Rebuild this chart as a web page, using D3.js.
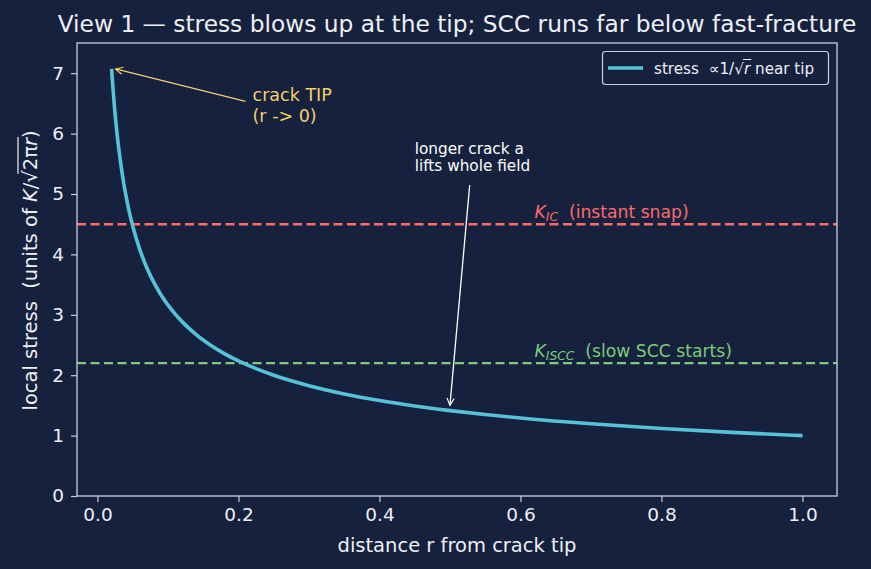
<!DOCTYPE html>
<html><head><meta charset="utf-8">
<script src="https://cdn.jsdelivr.net/npm/d3@7"></script>
<style>
html,body{margin:0;padding:0;background:#16213e;}
text{font-family:"DejaVu Sans",sans-serif;white-space:pre;}
</style></head>
<body><svg id="c" width="871" height="569"></svg>
<script>
// ---- data ----
const rValues = [0.020,0.025,0.030,0.035,0.040,0.045,0.050,0.060,0.070,0.080,0.090,0.100,0.110,0.120,0.130,0.140,0.150,0.160,0.180,0.200,0.225,0.250,0.275,0.300,0.350,0.400,0.450,0.500,0.550,0.600,0.700,0.800,0.900,1.000];
const stressValues = [7.071,6.325,5.774,5.345,5.000,4.714,4.472,4.082,3.780,3.536,3.333,3.162,3.015,2.887,2.774,2.673,2.582,2.500,2.357,2.236,2.108,2.000,1.907,1.826,1.690,1.581,1.491,1.414,1.348,1.291,1.195,1.118,1.054,1.000];
const xTicks = [0.0,0.2,0.4,0.6,0.8,1.0];
const yTicks = [0,1,2,3,4,5,6,7];
const thresholdNames = ["IC","ISCC"];
const thresholdValues = [4.5,2.2];
const thresholdNotes = ["(instant snap)","(slow SCC starts)"];
const tipPoint = [0.02,7.07];
const tipTextPos = [0.22,6.55];
const fieldArrowEnd = [0.5,1.5];
const fieldArrowStart = [0.528,5.15];
const fieldTextPos = [0.45,5.42];

const W=871,H=569;
const m={l:77,r:34,t:43,b:73};
const bg="#16213e", fg="#eef0f6", spine="#c9cfdc";
const svg=d3.select("#c");
svg.append("rect").attr("width",W).attr("height",H).attr("fill",bg);

const x=d3.scaleLinear().domain([-0.029,1.049]).range([m.l,W-m.r]);
const y=d3.scaleLinear().domain([0,7.5]).range([H-m.b,m.t]);

const defs=svg.append("defs");
defs.append("marker").attr("id","ay").attr("viewBox","0 0 10 10").attr("refX",9).attr("refY",5)
 .attr("markerWidth",9).attr("markerHeight",9).attr("markerUnits","userSpaceOnUse").attr("orient","auto")
 .append("path").attr("d","M1,1 L9,5 L1,9").attr("fill","none").attr("stroke","#f2d06b").attr("stroke-width",1.3);
defs.append("marker").attr("id","aw").attr("viewBox","0 0 10 10").attr("refX",9).attr("refY",5)
 .attr("markerWidth",9).attr("markerHeight",9).attr("markerUnits","userSpaceOnUse").attr("orient","auto")
 .append("path").attr("d","M1,1 L9,5 L1,9").attr("fill","none").attr("stroke","#ffffff").attr("stroke-width",1.3);

// threshold lines
const thColors=["#ff6b6b","#7ccc7a"];
thresholdValues.forEach((v,i)=>{
  svg.append("line").attr("x1",x.range()[0]).attr("x2",x.range()[1]).attr("y1",y(v)).attr("y2",y(v))
    .attr("stroke",thColors[i]).attr("stroke-width",2.4).attr("stroke-dasharray","9,4.5");
  const t=svg.append("text").attr("x",x(0.62)).attr("y",y(v+0.1)).attr("fill",thColors[i]).attr("font-size",17.2);
  t.append("tspan").attr("font-style","italic").text("K");
  t.append("tspan").attr("font-style","italic").attr("font-size",12.3).attr("dy",3).text(thresholdNames[i]);
  t.append("tspan").attr("dy",-3).text("  "+thresholdNotes[i]);
});

// curve
const pts=rValues.map((r,i)=>[r,stressValues[i]]);
svg.append("path").datum(pts).attr("fill","none").attr("stroke","#56c2d8").attr("stroke-width",3.6)
  .attr("stroke-linejoin","round").attr("stroke-linecap","butt")
  .attr("d",d3.line().x(d=>x(d[0])).y(d=>y(d[1])).curve(d3.curveMonotoneX));

// axes
const gx=svg.append("g").attr("transform",`translate(0,${H-m.b})`)
  .call(d3.axisBottom(x).tickValues(xTicks).tickFormat(d3.format(".1f")).tickSize(6).tickPadding(6));
const gy=svg.append("g").attr("transform",`translate(${m.l},0)`)
  .call(d3.axisLeft(y).tickValues(yTicks).tickFormat(d3.format("d")).tickSize(6).tickPadding(7));
[gx,gy].forEach(g=>{
  g.select(".domain").remove();
  g.selectAll("line").attr("stroke",spine).attr("stroke-width",1.2);
  g.selectAll("text").attr("fill",fg).attr("font-size",18.5).attr("font-family","DejaVu Sans");
});
svg.append("rect").attr("x",m.l).attr("y",m.t).attr("width",W-m.l-m.r).attr("height",H-m.t-m.b)
  .attr("fill","none").attr("stroke",spine).attr("stroke-width",1.3);

// title & labels
svg.append("text").attr("x",457).attr("y",31.5).attr("text-anchor","middle").attr("fill",fg).attr("font-size",23.3)
  .text("View 1 \u2014 stress blows up at the tip; SCC runs far below fast-fracture");
svg.append("text").attr("x",(m.l+W-m.r)/2).attr("y",552).attr("text-anchor","middle").attr("fill",fg).attr("font-size",19.5)
  .text("distance r from crack tip");

// y label with overline radical
const yl=svg.append("g").attr("transform",`translate(37,${(m.t+H-m.b)/2+1}) rotate(-90)`);
const ylt=yl.append("text").attr("text-anchor","middle").attr("fill",fg).attr("font-size",19.5);
ylt.append("tspan").text("local stress  (units of ");
ylt.append("tspan").attr("font-style","italic").text("K");
ylt.append("tspan").text("/\u221A");
ylt.append("tspan").text("2\u03C0");
ylt.append("tspan").attr("font-style","italic").text("r");
ylt.append("tspan").text(")");
{
  const n=ylt.node(); const txt=ylt.text();
  const i0=txt.indexOf("2\u03C0");
  const s=n.getStartPositionOfChar(i0-1);
  const e=n.getEndPositionOfChar(i0+2);
  yl.append("line").attr("x1",s.x+9).attr("x2",e.x+1).attr("y1",-19).attr("y2",-19).attr("stroke",fg).attr("stroke-width",1.2);
}

// annotations
svg.append("line").attr("x1",x(tipTextPos[0])-7).attr("y1",y(tipTextPos[1])+1)
  .attr("x2",x(tipPoint[0])+4).attr("y2",y(tipPoint[1])).attr("stroke","#f2d06b").attr("stroke-width",1.3).attr("marker-end","url(#ay)");
const tt=svg.append("text").attr("fill","#f2d06b").attr("font-size",17.5);
tt.append("tspan").attr("x",x(tipTextPos[0])).attr("y",101).text("crack TIP");
tt.append("tspan").attr("x",x(tipTextPos[0])).attr("dy",20.5).text("(r -> 0)");

svg.append("line").attr("x1",x(fieldArrowStart[0])).attr("y1",y(fieldArrowStart[1]))
  .attr("x2",x(fieldArrowEnd[0])).attr("y2",y(fieldArrowEnd[1])).attr("stroke","#ffffff").attr("stroke-width",1.3).attr("marker-end","url(#aw)");
const ft=svg.append("text").attr("fill","#ffffff").attr("font-size",15.3);
ft.append("tspan").attr("x",x(fieldTextPos[0])).attr("y",154).text("longer crack a");
ft.append("tspan").attr("x",x(fieldTextPos[0])).attr("dy",16.5).text("lifts whole field");

// legend
const lg=svg.append("g");
lg.append("rect").attr("x",602.5).attr("y",51.5).attr("width",226).attr("height",33).attr("rx",3)
  .attr("fill",bg).attr("stroke",spine).attr("stroke-width",1.2);
lg.append("line").attr("x1",608).attr("x2",643).attr("y1",68).attr("y2",68).attr("stroke","#56c2d8").attr("stroke-width",3.6);
const lt=lg.append("text").attr("x",654).attr("y",73.5).attr("fill",fg).attr("font-size",15.2);
lt.append("tspan").text("stress  \u221D1/\u221A");
lt.append("tspan").attr("font-style","italic").text("r");
lt.append("tspan").text(" near tip");
{
  const n=lt.node(); const idx=lt.text().indexOf("r near");
  const s=n.getStartPositionOfChar(idx), e=n.getEndPositionOfChar(idx);
  lg.append("line").attr("x1",s.x-1).attr("x2",e.x+1).attr("y1",59.5).attr("y2",59.5).attr("stroke",fg).attr("stroke-width",1);
}
</script></body></html>
